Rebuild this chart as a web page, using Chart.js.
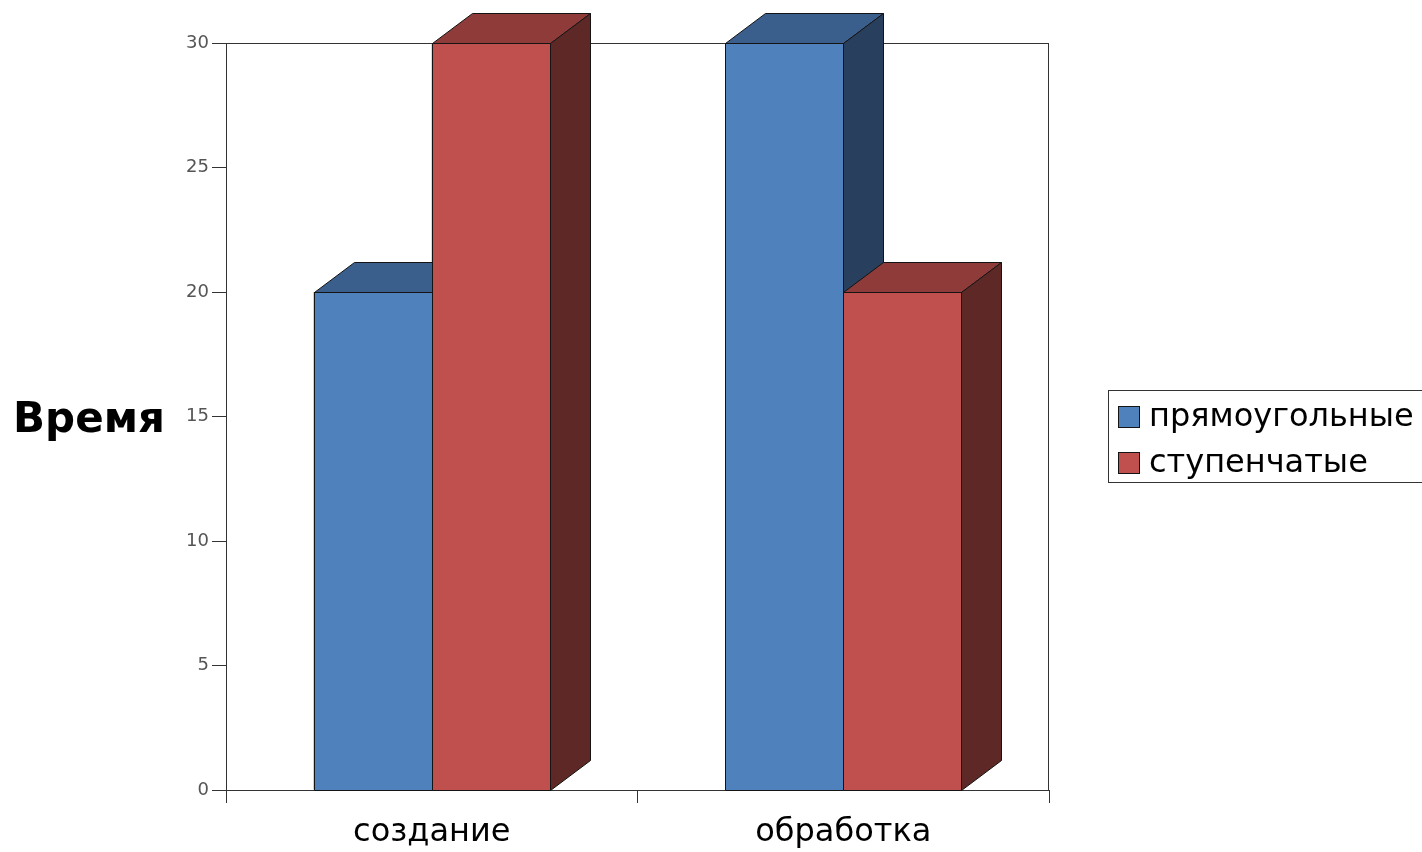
<!DOCTYPE html>
<html>
<head>
<meta charset="utf-8">
<script src="https://cdn.jsdelivr.net/npm/chart.js@4/dist/chart.umd.min.js"></script>
<style>
  html, body { margin: 0; background: #fff; }
  #wrap { width: 1422px; height: 852px; }
</style>
</head>
<body>
<div id="wrap"><canvas id="chart"></canvas></div>
<script>
const categories = ["создание", "обработка"];
const seriesNames = ["прямоугольные", "ступенчатые"];
const rectValues = [20, 30];
const stepValues = [30, 20];
const axisTitle = "Время";

// depth of the fake 3D effect
const DX = 40, DY = 30;
const FONT = "'DejaVu Sans', Verdana, sans-serif";

function poly(ctx, pts, fill) {
  ctx.beginPath();
  ctx.moveTo(pts[0][0], pts[0][1]);
  for (let i = 1; i < pts.length; i++) ctx.lineTo(pts[i][0], pts[i][1]);
  ctx.closePath();
  ctx.fillStyle = fill;
  ctx.fill();
  ctx.stroke();
}

const bar3d = {
  id: "bar3d",
  beforeDatasetsDraw(chart) {
    const { ctx, chartArea: a } = chart;
    ctx.save();
    ctx.strokeStyle = "#333";
    ctx.lineWidth = 1;
    ctx.strokeRect(a.left + 0.5, a.top + 0.5, a.right - a.left - 1, a.bottom - a.top);
    ctx.restore();
  },
  afterDatasetsDraw(chart) {
    const ctx = chart.ctx;
    ctx.save();
    ctx.strokeStyle = "#141414";
    ctx.lineWidth = 1;
    chart.data.datasets.forEach((ds, i) => {
      chart.getDatasetMeta(i).data.forEach(bar => {
        const { x, y, base, width } = bar.getProps(["x", "y", "base", "width"], true);
        const l = Math.round(x - width / 2) + 0.5, r = Math.round(x + width / 2) + 0.5;
        const t = Math.round(y) + 0.5, b = Math.round(base) + 0.5;
        poly(ctx, [[l, t], [r, t], [r, b], [l, b]], ds.backgroundColor);
        poly(ctx, [[l, t], [l + DX, t - DY], [r + DX, t - DY], [r, t]], ds.topColor);
        poly(ctx, [[r, t], [r + DX, t - DY], [r + DX, b - DY], [r, b]], ds.sideColor);
      });
    });
    ctx.restore();
  },
  afterDraw(chart) {
    const ctx = chart.ctx;
    ctx.save();
    // y axis title, horizontal
    ctx.fillStyle = "#000";
    ctx.font = "bold 42px " + FONT;
    ctx.textAlign = "center";
    ctx.textBaseline = "alphabetic";
    ctx.fillText(axisTitle, 89, 432);
    // legend box
    ctx.strokeStyle = "#333";
    ctx.lineWidth = 1;
    ctx.strokeRect(1108.5, 390.5, 330, 92);
    ctx.font = "32px " + FONT;
    ctx.textAlign = "left";
    ctx.textBaseline = "middle";
    chart.data.datasets.forEach((ds, i) => {
      const cy = 417 + i * 46;
      ctx.fillStyle = ds.backgroundColor;
      ctx.fillRect(1118.5, cy - 10.5, 21, 21);
      ctx.strokeStyle = "#141414";
      ctx.strokeRect(1118.5, cy - 10.5, 21, 21);
      ctx.fillStyle = "#000";
      ctx.fillText(ds.label, 1149, cy + 1);
    });
    ctx.restore();
  }
};

new Chart(document.getElementById("chart"), {
  type: "bar",
  data: {
    labels: categories,
    datasets: [
      {
        label: seriesNames[0],
        data: rectValues,
        backgroundColor: "#4F81BD",
        topColor: "#3B5F8D",
        sideColor: "#283F5E",
      },
      {
        label: seriesNames[1],
        data: stepValues,
        backgroundColor: "#C0504D",
        topColor: "#8E3B39",
        sideColor: "#5E2826",
      },
    ],
  },
  options: {
    responsive: true,
    maintainAspectRatio: false,
    animation: false,
    categoryPercentage: 0.574,
    barPercentage: 1,
    layout: { padding: { top: 43, right: 373, left: 0, bottom: 0 } },
    plugins: {
      legend: { display: false },
      tooltip: { enabled: false },
    },
    scales: {
      x: {
        afterFit: s => { s.height = 62; },
        grid: { offset: true, drawOnChartArea: false, tickLength: 13, color: "#333" },
        border: { color: "#333" },
        ticks: { color: "#000", padding: 10, font: { family: FONT, size: 32 } },
      },
      y: {
        min: 0,
        max: 30,
        afterFit: s => { s.width = 226; },
        grid: { drawOnChartArea: false, tickLength: 14, color: "#333" },
        border: { color: "#333" },
        ticks: { stepSize: 5, color: "#555", padding: 3, font: { family: FONT, size: 18 } },
      },
    },
  },
  plugins: [bar3d],
});
</script>
</body>
</html>
